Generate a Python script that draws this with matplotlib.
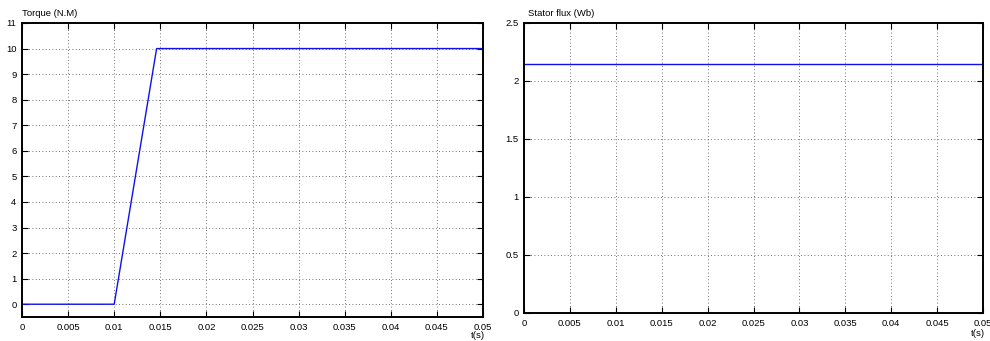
import numpy as np
import matplotlib
matplotlib.use("Agg")
import matplotlib.pyplot as plt

plt.rcParams['font.family'] = ['Liberation Sans', 'DejaVu Sans']

# Electromagnetic torque response (N.M)
torque_t = [0.0, 0.01, 0.0146, 0.05]
torque_v = [0.0, 0.0, 10.0, 10.0]

# Stator flux magnitude (Wb)
flux_t = [0.0, 0.05]
flux_v = [2.147, 2.147]

x_ticks = [0, 0.005, 0.01, 0.015, 0.02, 0.025, 0.03, 0.035, 0.04, 0.045, 0.05]
x_labels = ["0", "0.005", "0.01", "0.015", "0.02", "0.025", "0.03", "0.035", "0.04", "0.045", "0.05"]
torque_ticks = list(range(0, 12))
flux_ticks = [0, 0.5, 1, 1.5, 2, 2.5]
flux_labels = ["0", "0.5", "1", "1.5", "2", "2.5"]

FS = 6.8
W, H = 990, 341
fig = plt.figure(figsize=(W / 100, H / 100), dpi=100)

def style(ax):
    ax.grid(True, color='#444444', linestyle=(0, (1, 3)), linewidth=0.6)
    ax.tick_params(direction='in', length=4, width=0.8, labelsize=FS,
                   top=True, right=True, pad=4)
    for s in ax.spines.values():
        s.set_linewidth(1.4)
    ax.set_axisbelow(True)

ax1 = fig.add_axes([22 / W, 1 - 317 / H, (483 - 22) / W, (317 - 23) / H])
ax1.plot(torque_t, torque_v, color='#1010ee', linewidth=1.0)
ax1.set_xlim(0, 0.05)
ax1.set_ylim(-0.5, 11)
ax1.set_xticks(x_ticks)
ax1.set_xticklabels(x_labels)
ax1.set_yticks(torque_ticks)
style(ax1)
fig.text(22 / W, 1 - 14 / H, "Torque (N.M)", fontsize=FS, ha='left', va='center')
fig.text(478 / W, 1 - 335 / H, "t(s)", fontsize=FS, ha='center', va='center')

ax2 = fig.add_axes([524 / W, 1 - 313 / H, (983 - 524) / W, (313 - 23) / H])
ax2.plot(flux_t, flux_v, color='#1010ee', linewidth=1.0)
ax2.set_xlim(0, 0.05)
ax2.set_ylim(0, 2.5)
ax2.set_xticks(x_ticks)
ax2.set_xticklabels(x_labels)
ax2.set_yticks(flux_ticks)
ax2.set_yticklabels(flux_labels)
style(ax2)
fig.text(528 / W, 1 - 14 / H, "Stator flux (Wb)", fontsize=FS, ha='left', va='center')
fig.text(978 / W, 1 - 333 / H, "t(s)", fontsize=FS, ha='center', va='center')

fig.savefig("out.png", dpi=100)
